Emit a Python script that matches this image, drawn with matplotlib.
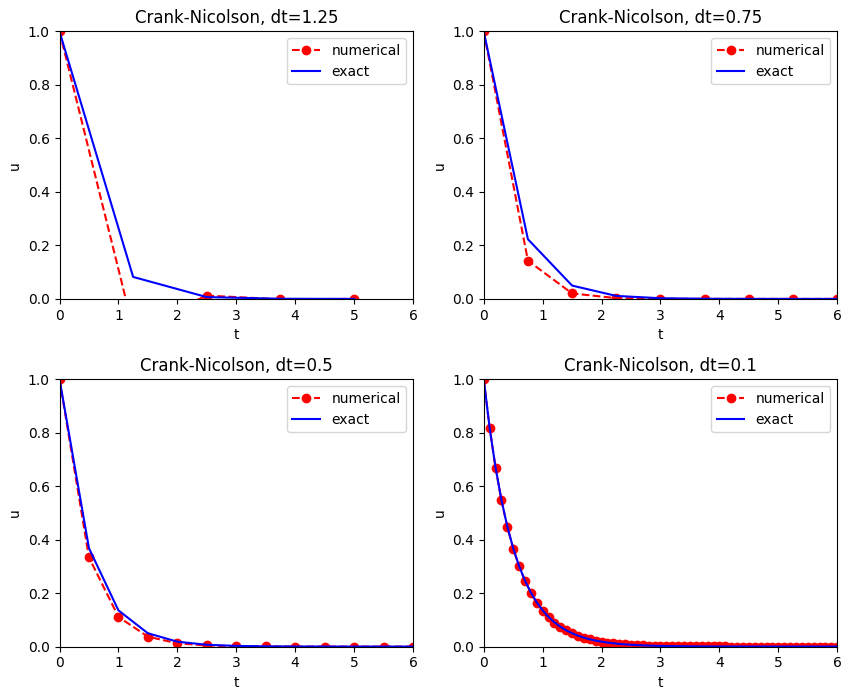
import numpy as np
import matplotlib.pyplot as plt

# values
dts = [1.25, 0.75, 0.5, 0.1]

t_125 = [0, 1.25, 2.5, 3.75, 5.0]
num_125 = [1.0, -0.1111, 0.0123, -0.0014, 0.0002]
ex_125 = [1.0, 0.0821, 0.0067, 0.0006, 0.0000]

t_075 = [0, 0.75, 1.5, 2.25, 3.0, 3.75, 4.5, 5.25, 6.0]
num_075 = [1.0, 0.1429, 0.0204, 0.0029, 0.0004, 0.0001, 0.0, 0.0, 0.0]
ex_075 = [1.0, 0.2231, 0.0498, 0.0111, 0.0025, 0.0006, 0.0001, 0.0, 0.0]

t_05 = [0, 0.5, 1.0, 1.5, 2.0, 2.5, 3.0, 3.5, 4.0, 4.5, 5.0, 5.5, 6.0]
num_05 = [1.0, 0.3333, 0.1111, 0.0370, 0.0123, 0.0041, 0.0014, 0.0005,
          0.0002, 0.0001, 0.0, 0.0, 0.0]
ex_05 = [1.0, 0.3679, 0.1353, 0.0498, 0.0183, 0.0067, 0.0025, 0.0009,
         0.0003, 0.0001, 0.0, 0.0, 0.0]

t_01 = np.round(np.arange(0, 61) * 0.1, 1)
num_01 = [1.0, 0.8182, 0.6694, 0.5477, 0.4481, 0.3667, 0.3000, 0.2455, 0.2008,
          0.1643, 0.1344, 0.1100, 0.0900, 0.0736, 0.0602, 0.0493, 0.0403,
          0.0330, 0.0270, 0.0221, 0.0181, 0.0148, 0.0121, 0.0099, 0.0081,
          0.0066, 0.0054, 0.0044, 0.0036, 0.0030, 0.0024, 0.0020, 0.0016,
          0.0013, 0.0011, 0.0009, 0.0007, 0.0006, 0.0005, 0.0004, 0.0003,
          0.0003, 0.0002, 0.0002, 0.0002, 0.0001, 0.0001, 0.0001, 0.0001,
          0.0001, 0.0001, 0.0, 0.0, 0.0, 0.0, 0.0, 0.0, 0.0, 0.0, 0.0, 0.0]
ex_01 = [1.0, 0.8187, 0.6703, 0.5488, 0.4493, 0.3679, 0.3012, 0.2466, 0.2019,
         0.1653, 0.1353, 0.1108, 0.0907, 0.0743, 0.0608, 0.0498, 0.0408,
         0.0334, 0.0273, 0.0224, 0.0183, 0.0150, 0.0123, 0.0101, 0.0082,
         0.0067, 0.0055, 0.0045, 0.0037, 0.0030, 0.0025, 0.0020, 0.0017,
         0.0014, 0.0011, 0.0009, 0.0007, 0.0006, 0.0005, 0.0004, 0.0003,
         0.0003, 0.0002, 0.0002, 0.0001, 0.0001, 0.0001, 0.0001, 0.0001,
         0.0001, 0.0, 0.0, 0.0, 0.0, 0.0, 0.0, 0.0, 0.0, 0.0, 0.0, 0.0]

series = [(t_125, num_125, ex_125), (t_075, num_075, ex_075),
          (t_05, num_05, ex_05), (t_01, num_01, ex_01)]

fig, axes = plt.subplots(2, 2, figsize=(8.5, 6.99), dpi=100)
for ax, dt, (t, num, ex) in zip(axes.flat, dts, series):
    ax.plot(t, num, 'r--o', label='numerical')
    ax.plot(t, ex, 'b-', label='exact')
    ax.set_xlim(0, 6)
    ax.set_ylim(0, 1)
    ax.set_xlabel('t')
    ax.set_ylabel('u')
    ax.set_title('Crank-Nicolson, dt=%g' % dt)
    ax.legend(loc='upper right')

plt.subplots_adjust(left=0.07, right=0.985, top=0.955, bottom=0.075,
                    wspace=0.2, hspace=0.3)
plt.savefig('out.png')
